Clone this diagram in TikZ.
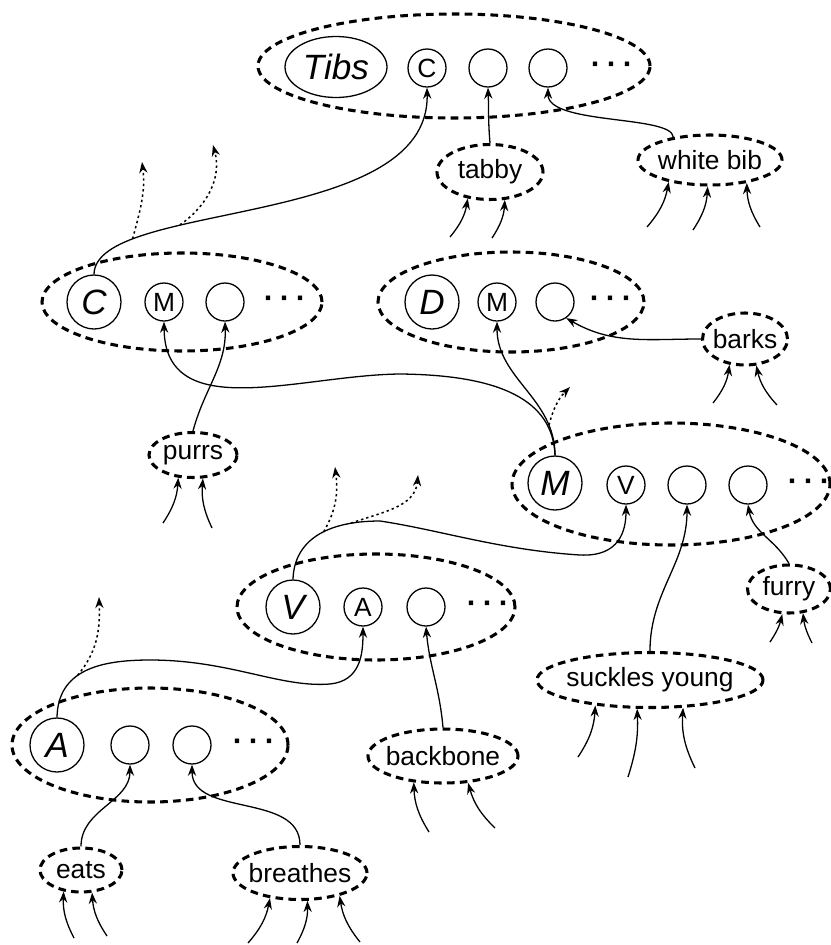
\documentclass[tikz,border=0pt]{standalone}
\usepackage{fontspec}
\setmainfont{Liberation Sans}
\usetikzlibrary{shapes.geometric,arrows.meta}

\newcommand\labfont{\fontsize{22.5}{26}\selectfont}
\newcommand\bigital{\fontsize{30}{35}\selectfont\itshape}
\newcommand\sdots{{\bfseries\fontsize{26}{30}\selectfont ·\hspace{5pt}·\hspace{5pt}·}}

\tikzset{
	feat/.style={ellipse, draw, line width=2.6pt, dash pattern=on 6.5pt off 4.5pt, inner sep=-8pt},
	grp/.style={feat},
	slot/.style={circle, draw, line width=1.1pt, minimum size=1.14cm, inner sep=0pt},
	cls/.style={slot, minimum size=1.62cm, font=\bigital},
	link/.style={line width=1.1pt, -{Stealth[length=9.5pt,width=7pt]}},
	isa/.style={link, line width=1.3pt, dash pattern=on 2pt off 2.6pt},
}

\begin{document}
\begin{tikzpicture}[x=0.03cm, y=-0.03cm, every node/.style={font=\labfont}]
			\useasboundingbox (0,0) rectangle (830,945);
			
			\node[grp, minimum width=11.76cm, minimum height=3.12cm] (tibsGrp) at (454,66) {};
			\node[ellipse, draw, line width=1.1pt, inner sep=0pt, minimum width=3.06cm, minimum height=1.83cm, font=\bigital] (tibs) at (336,67) {Tibs};
			\node[slot] (tibsC) at (427,68) {C};
			\node[slot] (tibs2) at (488,68) {};
			\node[slot] (tibs3) at (548,68) {};
			\node (tibsDots) at (612,68) {\sdots};
			
			\node[grp, minimum width=8.4cm, minimum height=2.94cm] (catGrp) at (182,302) {};
			\node[cls] (cat) at (94,302) {C};
			\node[slot] (catM) at (164,302) {M};
			\node[slot] (cat2) at (225,302) {};
			\node (catDots) at (285,302) {\sdots};
			
			\node[grp, minimum width=7.98cm, minimum height=3cm] (dogGrp) at (511,302) {};
			\node[cls] (dog) at (432,302) {D};
			\node[slot] (dogM) at (497,302) {M};
			\node[slot] (dog2) at (555,302) {};
			\node (dogDots) at (611,302) {\sdots};
			
			\node[grp, minimum width=9.54cm, minimum height=3.66cm] (mamGrp) at (671,484) {};
			\node[cls] (mam) at (555,483) {M};
			\node[slot] (mamV) at (626,485) {V};
			\node[slot] (mam2) at (687,485) {};
			\node[slot] (mam3) at (748,485) {};
			\node (mamDots) at (809,485) {\sdots};
			
			\node[grp, minimum width=8.34cm, minimum height=3.18cm] (vertGrp) at (376,607) {};
			\node[cls] (vert) at (293,607) {V};
			\node[slot] (vertA) at (363,607) {A};
			\node[slot] (vert2) at (426,607) {};
			\node (vertDots) at (488,607) {\sdots};
			
			\node[grp, minimum width=8.28cm, minimum height=3.42cm] (aniGrp) at (150,745) {};
			\node[cls] (ani) at (57,745) {A};
			\node[slot] (ani2) at (130,745) {};
			\node[slot] (ani3) at (192,745) {};
			\node (aniDots) at (254,745) {\sdots};
			
			\node[feat, minimum width=3.18cm, minimum height=1.65cm] (tabby) at (490,172) {tabby};
			\node[feat, minimum width=4.32cm, minimum height=1.5cm] (bib) at (710,160) {white bib};
			\node[feat, minimum width=2.55cm, minimum height=1.56cm] (barks) at (745,339) {barks};
			\node[feat, minimum width=2.64cm, minimum height=1.35cm] (purrs) at (193,455) {purrs};
			\node[feat, minimum width=2.49cm, minimum height=1.44cm] (furry) at (789,589) {furry};
			\node[feat, minimum width=6.78cm, minimum height=1.65cm] (suckles) at (650,680) {suckles young};
			\node[feat, minimum width=4.5cm, minimum height=1.62cm] (backbone) at (443,756) {backbone};
			\node[feat, minimum width=2.46cm, minimum height=1.32cm] (eats) at (81,870) {eats};
			\node[feat, minimum width=4.02cm, minimum height=1.59cm] (breathes) at (300,873) {breathes};
			
			\draw[link] (cat.north) .. controls (95,200) and (430,230) .. (tibsC.south) coordinate[pos=0.21] (catUp1) coordinate[pos=0.33] (catUp2);
			\draw[link] (tabby.north) to[out=95,in=-88] (tibs2.south);
			\draw[link] (bib.148) .. controls (672,115) and (548,125) .. (tibs3.south);
			\draw[link] (purrs.north) to[out=75,in=-88] (cat2.south);
			\draw[link] (mam.north) .. controls (553,400) and (500,375) .. (400,374) .. controls (300,375) and (165,425) .. (catM.south);
			\draw[link] (mam.north) to[out=90,in=-90] coordinate[pos=0.2] (mamUp) (dogM.south);
			\draw[link] (barks.west) to[out=180,in=-30] (dog2.-55);
			\draw[link] (vert.north) .. controls (294,545) and (320,521) .. (380,521) coordinate[pos=0.6] (vertUp1) coordinate[pos=0.82] (vertUp2) .. controls (440,530) and (500,550) .. (580,555) .. controls (620,557) and (626,530) .. (mamV.south);
			\draw[link] (ani.north) .. controls (58,670) and (100,660) .. (150,660) coordinate[pos=0.42] (aniUp) .. controls (230,660) and (280,688) .. (330,684) .. controls (360,681) and (363,655) .. (vertA.south);
			\draw[link] (eats.north) to[out=90,in=-90] (ani2.south);
			\draw[link] (breathes.north) to[out=90,in=-90] (ani3.south);
			\draw[link] (backbone.north) to[out=95,in=-85] (vert2.south);
			\draw[link] (suckles.north) to[out=90,in=-90] (mam2.south);
			\draw[link] (furry.north) to[out=120,in=-80] (mam3.south);
			
			\coordinate (catTip1) at (142,162);
			\coordinate (catTip2) at (213,145);
			\coordinate (mamTip) at (570,387);
			\coordinate (vertTip1) at (335,467);
			\coordinate (vertTip2) at (418,475);
			\coordinate (aniTip) at (99,597);
			\draw[isa] (catUp1) to[out=75,in=-83] (catTip1);
			\draw[isa] (catUp2) to[out=35,in=-75] (catTip2);
			\draw[isa] (mamUp) to[out=75,in=-135] (mamTip);
			\draw[isa] (vertUp1) to[out=60,in=-83] (vertTip1);
			\draw[isa] (vertUp2) to[out=20,in=-95] (vertTip2);
			\draw[isa] (aniUp) to[out=50,in=-88] (aniTip);
			
			\foreach \x/\y/\t/\a/\b [count=\i] in {450/237/tabby/-130/-15, 492/238/tabby/-62/-15,
				647/227/bib/-152/-15, 693/230/bib/-95/-15, 760/227/bib/-32/15,
				713/403/barks/-121/-15, 777/405/barks/-67/15,
				163/523/purrs/-123/-15, 212/528/purrs/-67/15,
				770/642/furry/-105/-10, 812/643/furry/-60/10,
				578/757/suckles/-155/-15, 628/777/suckles/-114/-10, 695/768/suckles/-40/15,
				429/832/backbone/-138/15, 495/828/backbone/-47/15,
				74/938/eats/-129/15, 107/936/eats/-64/15,
				248/943/breathes/-140/-15, 297/943/breathes/-75/-15, 360/942/breathes/-30/15}{
				\coordinate (src\i) at (\x,\y);
				\draw[link] (src\i) to[bend left=\b] (\t.\a);
			}
		\end{tikzpicture}
\end{document}
